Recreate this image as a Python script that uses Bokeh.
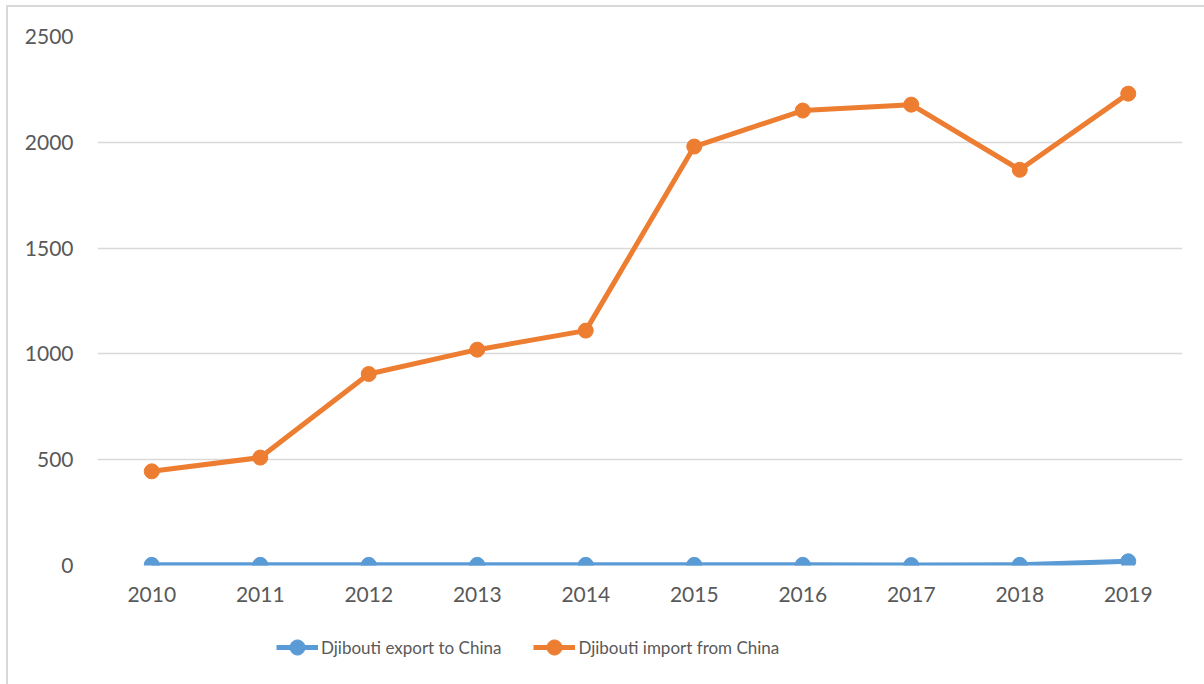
from bokeh.plotting import figure
from bokeh.layouts import column
from bokeh.models import Range1d, FactorRange, Legend, LegendItem, SingleIntervalTicker
from bokeh.embed import file_html
from bokeh.resources import INLINE

years = ["2010", "2011", "2012", "2013", "2014", "2015", "2016", "2017", "2018", "2019"]
export_to_china = [3, 3, 3, 3, 3, 3, 3, 2, 3, 20]
import_from_china = [445, 510, 905, 1020, 1110, 1980, 2150, 2178, 1870, 2230]
series_names = ["Djibouti export to China", "Djibouti import from China"]

BLUE = "#5B9BD5"
ORANGE = "#ED7D31"
FONT = "Lato"
TXT = "#595959"

p = figure(width=1196, height=608, x_range=FactorRange(*years), y_range=Range1d(0, 2500),
           output_backend="svg", toolbar_location=None,
           min_border_left=89, min_border_right=22, min_border_top=29, min_border_bottom=50)
p.outline_line_color = None
p.background_fill_color = "white"
p.border_fill_color = "white"

p.yaxis.ticker = SingleIntervalTicker(interval=500)
p.ygrid.grid_line_color = "#d9d9d9"
p.ygrid.grid_line_width = 1.5
p.xgrid.grid_line_color = None
for ax in (p.xaxis[0], p.yaxis[0]):
    ax.axis_line_color = None
    ax.major_tick_line_color = None
    ax.minor_tick_line_color = None
    ax.major_label_text_font = FONT
    ax.major_label_text_font_size = "21px"
    ax.major_label_text_color = TXT
p.yaxis.major_label_standoff = 18
p.xaxis.major_label_standoff = 15

p.line(years, export_to_china, line_color=BLUE, line_width=5)
p.scatter(years, export_to_china, size=15, fill_color=BLUE, line_color=BLUE)
p.line(years, import_from_china, line_color=ORANGE, line_width=5)
p.scatter(years, import_from_china, size=15, fill_color=ORANGE, line_color=ORANGE)

# legend strip below the chart (frame aligned with the main chart's frame)
lg = figure(width=1196, height=76, x_range=Range1d(0, 1), y_range=Range1d(0, 1),
            output_backend="svg", toolbar_location=None,
            min_border_left=89, min_border_right=22, min_border_top=0, min_border_bottom=0)
lg.axis.visible = False
lg.grid.visible = False
lg.outline_line_color = None
lg.border_fill_color = "white"
items = []
for name, col in zip(series_names, [BLUE, ORANGE]):
    rl = lg.line([-5, -4], [-5, -5], line_color=col, line_width=5)
    rs = lg.scatter([-5], [-5], size=15, fill_color=col, line_color=col)
    items.append(LegendItem(label=name, renderers=[rl, rs]))

legend = Legend(items=items, orientation="horizontal", location=(179, 25))
legend.label_text_font = FONT
legend.label_text_font_size = "17px"
legend.label_text_color = TXT
legend.border_line_color = None
legend.background_fill_alpha = 0
legend.glyph_width = 42
legend.glyph_height = 38
legend.label_standoff = 3
legend.spacing = 32
legend.margin = 0
legend.padding = 4
lg.add_layout(legend)

layout = column(p, lg, spacing=0)
layout.styles = {"border-left": "2px solid #d9d9d9", "border-top": "2px solid #d9d9d9",
                 "margin-left": "6px", "margin-top": "5px"}

open("out.html", "w").write(file_html(layout, INLINE))
